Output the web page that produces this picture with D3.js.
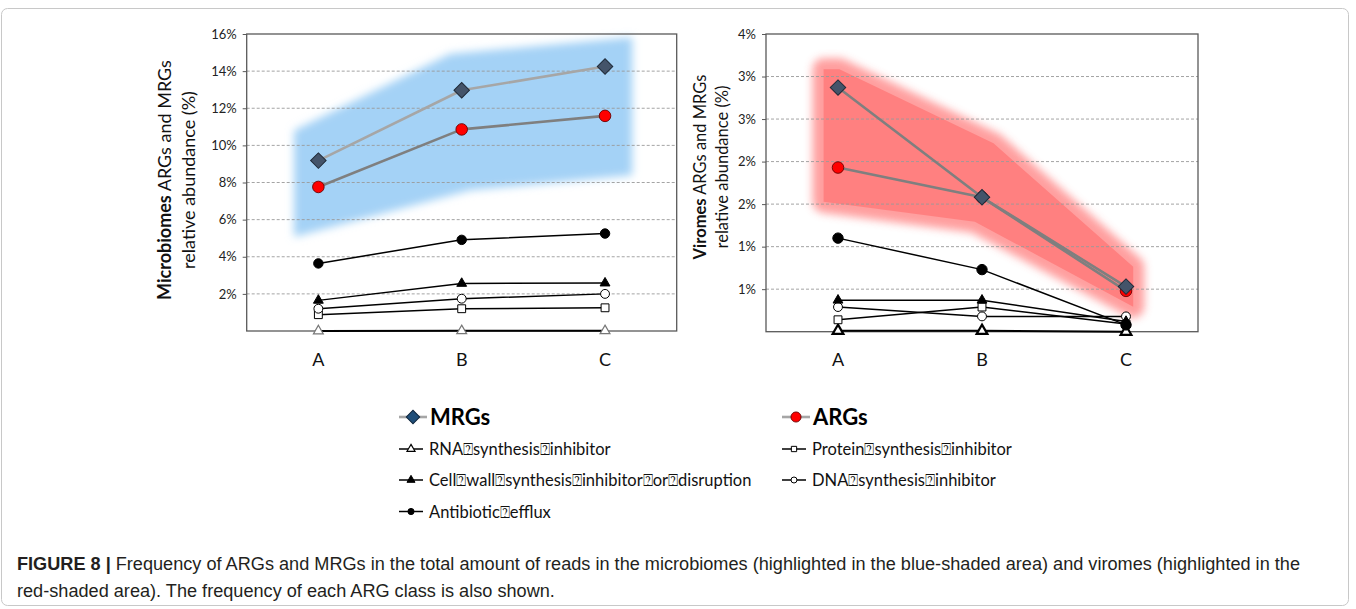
<!DOCTYPE html>
<html><head><meta charset="utf-8">
<script src="https://cdn.jsdelivr.net/npm/d3@7"></script>
<style>body{margin:0;background:#fff}svg{display:block}</style>
</head><body>
<svg id="c" width="1356" height="609"></svg>
<script>
const categories = ["A", "B", "C"];

// Microbiomes, relative abundance (%)
const microMRGs     = [9.18, 12.97, 14.25];
const microARGs     = [7.76, 10.86, 11.59];
const microRNA      = [0.0, 0.01, 0.01];
const microProtein  = [0.88, 1.2, 1.25];
const microDNA      = [1.2, 1.74, 2.0];
const microCellWall = [1.65, 2.56, 2.58];
const microEfflux   = [3.64, 4.91, 5.25];

// Viromes, relative abundance (%)
const viroMRGs     = [2.87, 1.58, 0.53];
const viroARGs     = [1.93, 1.58, 0.48];
const viroRNA      = [0.01, 0.01, 0.0];
const viroProtein  = [0.14, 0.29, 0.09];
const viroDNA      = [0.29, 0.18, 0.18];
const viroCellWall = [0.37, 0.37, 0.12];
const viroEfflux   = [1.1, 0.73, 0.08];

// tick values and labels
const microTicks = [2, 4, 6, 8, 10, 12, 14, 16];
const microTickLabels = ["2%", "4%", "6%", "8%", "10%", "12%", "14%", "16%"];
const viroTicks = [0.5, 1, 1.5, 2, 2.5, 3, 3.5];
const viroTickLabels = ["1%", "1%", "2%", "2%", "3%", "3%", "4%"];

// highlighted areas: [category position, value]
const microShade = [[-0.17, 10.8], [0.92, 14.93], [2.19, 15.82], [2.19, 8.39], [1.06, 7.58], [-0.17, 5.07]];
const viroShade = [[-0.1, 3.085], [0.01, 3.085], [1.08, 2.215], [2.05, 0.764], [2.05, 0.294], [0.95, 1.293], [-0.1, 1.528]];

const TOFU = "\u2370";
const legendMain = ["MRGs", "ARGs"];
const legendClasses = [
  "RNA" + TOFU + "synthesis" + TOFU + "inhibitor",
  "Protein" + TOFU + "synthesis" + TOFU + "inhibitor",
  "Cell" + TOFU + "wall" + TOFU + "synthesis" + TOFU + "inhibitor" + TOFU + "or" + TOFU + "disruption",
  "DNA" + TOFU + "synthesis" + TOFU + "inhibitor",
  "Antibiotic" + TOFU + "efflux"
];

const captionBold = "FIGURE 8 |";
const captionLine1 = " Frequency of ARGs and MRGs in the total amount of reads in the microbiomes (highlighted in the blue-shaded area) and viromes (highlighted in the";
const captionLine2 = "red-shaded area). The frequency of each ARG class is also shown.";

const FONT = "Lato, 'Open Sans', sans-serif";
const svg = d3.select("#c");

// frame
svg.append("rect").attr("x", 1.5).attr("y", 8.5).attr("width", 1347).attr("height", 597)
  .attr("rx", 6).attr("fill", "none").attr("stroke", "#c8c8c8").attr("stroke-width", 1);

const defs = svg.append("defs");
defs.append("filter").attr("id", "blurB").attr("x", "-20%").attr("y", "-20%").attr("width", "140%").attr("height", "140%")
  .append("feGaussianBlur").attr("stdDeviation", 4);
defs.append("filter").attr("id", "blurR").attr("x", "-20%").attr("y", "-20%").attr("width", "140%").attr("height", "140%")
  .append("feGaussianBlur").attr("stdDeviation", 4);

const markerDefs = {
  diamond: { sym: d3.symbolSquare, size: 120, rot: 45, fill: "#44546a", stroke: "#1f2a38", sw: 1 },
  red:     { sym: d3.symbolCircle, size: 105, fill: "#ff0000", stroke: "#6b0000", sw: 0.9 },
  dot:     { sym: d3.symbolCircle, size: 70, fill: "#000", stroke: "#000", sw: 1 },
  tri:     { sym: d3.symbolTriangle, size: 42, fill: "#000", stroke: "#000", sw: 1 },
  otri:    { sym: d3.symbolTriangle, size: 42, fill: "#fff", stroke: "#000", sw: 1.2 },
  ocirc:   { sym: d3.symbolCircle, size: 62, fill: "#fff", stroke: "#000", sw: 1 },
  square:  { sym: d3.symbolSquare, size: 62, fill: "#fff", stroke: "#000", sw: 1 }
};

function drawMarker(g, type, cx, cy, over) {
  const m = Object.assign({}, markerDefs[type], over || {});
  g.append("path").attr("d", d3.symbol().type(m.sym).size(m.size)())
    .attr("transform", `translate(${cx},${cy}) rotate(${m.rot || 0})`)
    .attr("fill", m.fill).attr("stroke", m.stroke).attr("stroke-width", m.sw);
}

function panel(cfg) {
  const x = d3.scalePoint().domain(categories).range([cfg.x0, cfg.x1]).padding(0.5);
  const y = d3.scaleLinear().domain([0, cfg.max]).range([cfg.yb, cfg.yt]);
  const xi = i => x(categories[0]) + i * x.step();
  const g = svg.append("g");

  // shaded area
  const shadePath = d3.line().x(d => xi(d[0])).y(d => y(d[1]))(cfg.shade) + "Z";
  if (cfg.shadeType === "blue") {
    g.append("path").attr("d", shadePath).attr("fill", "#a4d2f6").attr("filter", "url(#blurB)");
  } else {
    g.append("path").attr("d", shadePath).attr("fill", "#ff9494").attr("stroke", "#ff9494")
      .attr("stroke-width", 22).attr("stroke-linejoin", "round").attr("filter", "url(#blurR)").attr("opacity", 0.9);
    g.append("path").attr("d", shadePath).attr("fill", "#ff8080");
  }

  // gridlines
  g.selectAll(".grid").data(cfg.ticks.filter(t => t < cfg.max)).join("line")
    .attr("x1", cfg.x0).attr("x2", cfg.x1).attr("y1", d => y(d)).attr("y2", d => y(d))
    .attr("stroke", "#9a9a9a").attr("stroke-width", 0.9).attr("stroke-dasharray", "3,2");

  // box
  g.append("rect").attr("x", cfg.x0).attr("y", cfg.yt).attr("width", cfg.x1 - cfg.x0).attr("height", cfg.yb - cfg.yt)
    .attr("fill", "none").attr("stroke", "#595959").attr("stroke-width", 1.3);

  // y axis
  const ax = g.append("g").attr("transform", `translate(${cfg.x0},0)`)
    .call(d3.axisLeft(y).tickValues(cfg.ticks).tickFormat((d, i) => cfg.tickLabels[i]).tickSize(4).tickPadding(6));
  ax.select(".domain").remove();
  ax.selectAll(".tick line").attr("stroke", "#595959");
  ax.selectAll(".tick text").attr("font-family", FONT).attr("font-size", 13).attr("fill", "#222");

  // x labels
  g.selectAll(".xl").data(categories).join("text")
    .attr("x", d => x(d)).attr("y", 366).attr("text-anchor", "middle")
    .attr("font-family", FONT).attr("font-size", 18).attr("fill", "#111").text(d => d);

  // series
  const lineGen = d3.line().x((d, i) => x(categories[i])).y(d => y(d));
  cfg.series.forEach(s => {
    g.append("path").attr("d", lineGen(s.vals)).attr("fill", "none")
      .attr("stroke", s.stroke).attr("stroke-width", s.width).attr("stroke-linejoin", "round");
    s.vals.forEach((v, i) => drawMarker(g, s.marker, x(categories[i]), y(v), s.mOver));
  });

  // axis title
  const t = g.append("text").attr("transform", `translate(${cfg.tx1},${cfg.ty}) rotate(-90)`)
    .attr("text-anchor", "middle").attr("font-family", FONT).attr("font-size", cfg.tfs).attr("fill", "#111");
  t.append("tspan").attr("font-weight", "bold").text(cfg.titleBold);
  t.append("tspan").text(" ARGs and MRGs");
  g.append("text").attr("transform", `translate(${cfg.tx2},${cfg.ty}) rotate(-90)`)
    .attr("text-anchor", "middle").attr("font-family", FONT).attr("font-size", cfg.tfs).attr("fill", "#111")
    .text("relative abundance (%)");
}

panel({
  x0: 246.7, x1: 676.7, yt: 34, yb: 331, max: 16,
  ticks: microTicks, tickLabels: microTickLabels,
  shade: microShade, shadeType: "blue",
  titleBold: "Microbiomes", tx1: 171, tx2: 195, ty: 180, tfs: 18,
  series: [
    { vals: microRNA, stroke: "#000", width: 2, marker: "otri", mOver: { stroke: "#777" } },
    { vals: microProtein, stroke: "#000", width: 1.5, marker: "square" },
    { vals: microDNA, stroke: "#000", width: 1.5, marker: "ocirc" },
    { vals: microCellWall, stroke: "#000", width: 1.5, marker: "tri" },
    { vals: microEfflux, stroke: "#000", width: 1.5, marker: "dot" },
    { vals: microARGs, stroke: "#7f7f7f", width: 2.6, marker: "red" },
    { vals: microMRGs, stroke: "#a6a6a6", width: 2.6, marker: "diamond" }
  ]
});

panel({
  x0: 766, x1: 1198, yt: 34, yb: 331.7, max: 3.5,
  ticks: viroTicks, tickLabels: viroTickLabels,
  shade: viroShade, shadeType: "red",
  titleBold: "Viromes", tx1: 706, tx2: 728, ty: 167, tfs: 16.5,
  series: [
    { vals: viroRNA, stroke: "#000", width: 2, marker: "otri", mOver: { sw: 2.2, size: 50 } },
    { vals: viroProtein, stroke: "#000", width: 1.5, marker: "square" },
    { vals: viroDNA, stroke: "#000", width: 1.5, marker: "ocirc" },
    { vals: viroCellWall, stroke: "#000", width: 1.5, marker: "tri" },
    { vals: viroEfflux, stroke: "#000", width: 1.5, marker: "dot", mOver: { size: 85 } },
    { vals: viroARGs, stroke: "#7f7f7f", width: 2.6, marker: "red" },
    { vals: viroMRGs, stroke: "#7f7f7f", width: 2.6, marker: "diamond" }
  ]
});

// legend
const lg = svg.append("g");
const mainPos = [{ x: 399, y: 417 }, { x: 782, y: 417 }];
const mainMarkers = [{ t: "diamond", o: { fill: "#1f4e79", stroke: "#10263d", size: 90 } }, { t: "red", o: { size: 80 } }];
legendMain.forEach((name, i) => {
  const p = mainPos[i];
  lg.append("line").attr("x1", p.x).attr("x2", p.x + 28).attr("y1", p.y).attr("y2", p.y)
    .attr("stroke", "#a6a6a6").attr("stroke-width", 2.6);
  drawMarker(lg, mainMarkers[i].t, p.x + 14, p.y, mainMarkers[i].o);
  lg.append("text").attr("x", p.x + 31).attr("y", p.y + 8).attr("font-family", FONT)
    .attr("font-weight", "bold").attr("font-size", 22).attr("fill", "#000").text(name);
});
const classPos = [
  { x: 399, y: 449, m: "otri" }, { x: 782, y: 449, m: "square" },
  { x: 399, y: 480, m: "tri" }, { x: 782, y: 480, m: "ocirc" },
  { x: 399, y: 511.5, m: "dot" }
];
legendClasses.forEach((name, i) => {
  const p = classPos[i];
  lg.append("line").attr("x1", p.x).attr("x2", p.x + 24).attr("y1", p.y).attr("y2", p.y)
    .attr("stroke", "#000").attr("stroke-width", 1.5);
  drawMarker(lg, p.m, p.x + 12, p.y, { size: p.m === "dot" ? 30 : 28 });
  lg.append("text").attr("x", p.x + 30).attr("y", p.y + 6).attr("font-family", FONT)
    .attr("font-size", 16.5).attr("fill", "#111").text(name);
});

// caption
const cap = svg.append("g").attr("font-family", "'Liberation Sans Narrow', 'Arial Narrow', 'Liberation Sans', sans-serif")
  .attr("font-size", 17.5).attr("fill", "#231f20");
const c1 = cap.append("text").attr("x", 17).attr("y", 570);
c1.append("tspan").attr("font-weight", "bold").text(captionBold);
c1.append("tspan").text(captionLine1);
const c2 = cap.append("text").attr("x", 17).attr("y", 597).text(captionLine2);
const w1 = c1.node().getComputedTextLength();
if (Math.abs(w1 - 1283) > 4) {
  const w2 = c2.node().getComputedTextLength();
  c1.attr("textLength", 1283).attr("lengthAdjust", "spacingAndGlyphs");
  c2.attr("textLength", w2 * 1283 / w1).attr("lengthAdjust", "spacingAndGlyphs");
}
</script>
</body></html>
